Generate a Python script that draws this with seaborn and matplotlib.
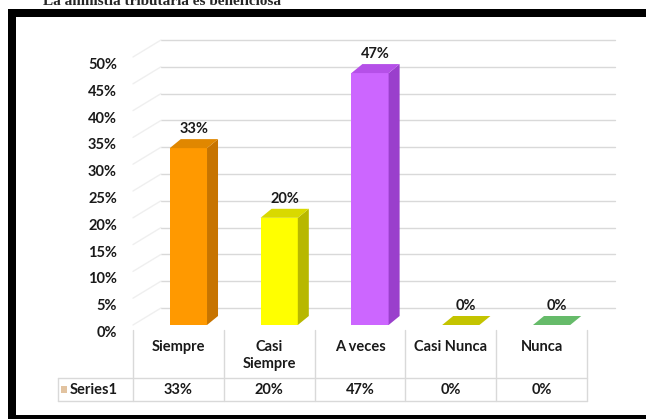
import matplotlib
matplotlib.use("Agg")
import matplotlib.pyplot as plt
import seaborn as sns
from matplotlib.patches import Polygon, Rectangle
from matplotlib.lines import Line2D
from matplotlib.transforms import ScaledTranslation

# data
categories = ["Siempre", "Casi Siempre", "A veces", "Casi Nunca", "Nunca"]
header_labels = ["Siempre", "Casi\nSiempre", "A veces", "Casi Nunca", "Nunca"]
values = [0.33, 0.20, 0.47, 0.0, 0.0]
y_ticks = [0.0, 0.05, 0.10, 0.15, 0.20, 0.25, 0.30, 0.35, 0.40, 0.45, 0.50]
series_name = "Series1"
title = "La amnistía tributaria es beneficiosa"

front_colors = ["#FF9900", "#FFFF00", "#CC66FF", "#C4C400", "#66BB6A"]
side_colors = ["#C77400", "#B8B800", "#9A3FCC", "#A0A000", "#4E9A52"]
top_colors = ["#E08700", "#D9D900", "#B550E8", "#C4C400", "#66BB6A"]

W, H = 646, 419
FS = 10.5


def fx(px):
    return px / W


def fy(py):
    return 1 - py / H


sns.set_style("white")
plt.rcParams["font.family"] = ["Lato", "DejaVu Sans"]

fig = plt.figure(figsize=(W / 100, H / 100), dpi=100)
fig.patch.set_facecolor("white")

# plot area (front plane of the 3D box)
ax = fig.add_axes([fx(133), fy(325), (587 - 133) / W, (325 - 57) / H])
sns.barplot(x=categories, y=values, hue=categories, palette=front_colors,
            width=0.41, saturation=1, legend=False, ax=ax, zorder=3, linewidth=0)
ax.set_xlim(-0.5, 4.5)
ax.set_ylim(0, 0.5)
ax.set_axis_off()

# depth of the bars, in data units
px_x = 454 / 5
px_y = 268 / 0.5
dx = 11 / px_x
dy = 9 / px_y
shift = 10 / px_x

# back wall gridlines, side wall hint and y labels
back = ax.transData + ScaledTranslation(28 / 100, 17 / 100, fig.dpi_scale_trans)
for t in y_ticks:
    ax.plot([-0.5, 4.5], [t, t], transform=back, color="#D9D9D9", lw=1,
            zorder=0, clip_on=False)
    ax.text(-0.5, t, f"{round(t * 100)}%", ha="right", va="center",
            fontsize=FS, fontweight="bold", color="#1a1a1a",
            transform=ax.transData + ScaledTranslation(-16 / 100, -8 / 100, fig.dpi_scale_trans))
    fig.add_artist(Line2D([fx(133), fx(161)],
                          [fy(325 - t * px_y), fy(308 - t * px_y)],
                          color="#EFEFEF", lw=1))

# fake 3D faces + value labels
for i, cont in enumerate(ax.containers):
    for bar in cont:
        bar.set_x(bar.get_x() + shift)
        x, w, h = bar.get_x(), bar.get_width(), bar.get_height()
        if h > 0:
            ax.add_patch(Polygon([(x + w, 0), (x + w + dx, dy), (x + w + dx, h + dy), (x + w, h)],
                                 closed=True, facecolor=side_colors[i], edgecolor="none", zorder=3))
        ax.add_patch(Polygon([(x, h), (x + dx, h + dy), (x + w + dx, h + dy), (x + w, h)],
                             closed=True, facecolor=top_colors[i], edgecolor="none", zorder=3,
                             clip_on=False))
        ax.annotate(f"{round(h * 100)}%", (x + (w + dx) / 2, h + dy), xytext=(0, 2),
                    textcoords="offset points", ha="center", va="bottom",
                    fontsize=FS, fontweight="bold", color="#1a1a1a")

# data table under the chart
grid_c = "#D9D9D9"
col_edges = [133 + i * (587 - 133) / 5 for i in range(6)]
for xe in col_edges:
    fig.add_artist(Line2D([fx(xe), fx(xe)], [fy(330), fy(401)], color=grid_c, lw=1))
fig.add_artist(Line2D([fx(58), fx(58)], [fy(378), fy(401)], color=grid_c, lw=1))
for ye in [378, 401]:
    fig.add_artist(Line2D([fx(58), fx(587)], [fy(ye), fy(ye)], color=grid_c, lw=1))

for i, (lab, v) in enumerate(zip(header_labels, values)):
    cx = (col_edges[i] + col_edges[i + 1]) / 2
    fig.text(fx(cx), fy(340), lab, ha="center", va="top", fontsize=FS,
             fontweight="bold", color="#1a1a1a", linespacing=1.25)
    fig.text(fx(cx), fy(390), f"{round(v * 100)}%", ha="center", va="center",
             fontsize=FS, fontweight="bold", color="#1a1a1a")

fig.add_artist(Rectangle((fx(61), fy(393)), 6 / W, 7 / H, transform=fig.transFigure,
                         facecolor="#E2C3A0", edgecolor="none"))
fig.text(fx(70), fy(390), series_name, ha="left", va="center", fontsize=FS,
         fontweight="bold", color="#1a1a1a")

# black frame and (cut off) title
fig.add_artist(Rectangle((fx(12), fy(419)), (660 - 12) / W, (419 - 13) / H,
                         transform=fig.transFigure, facecolor="none",
                         edgecolor="black", lw=8 * 0.72))
fig.text(fx(43), fy(5), title, ha="left", va="baseline", fontsize=11,
         fontweight="bold", family=["Liberation Serif", "DejaVu Serif"])

fig.savefig("out.png", dpi=100)
